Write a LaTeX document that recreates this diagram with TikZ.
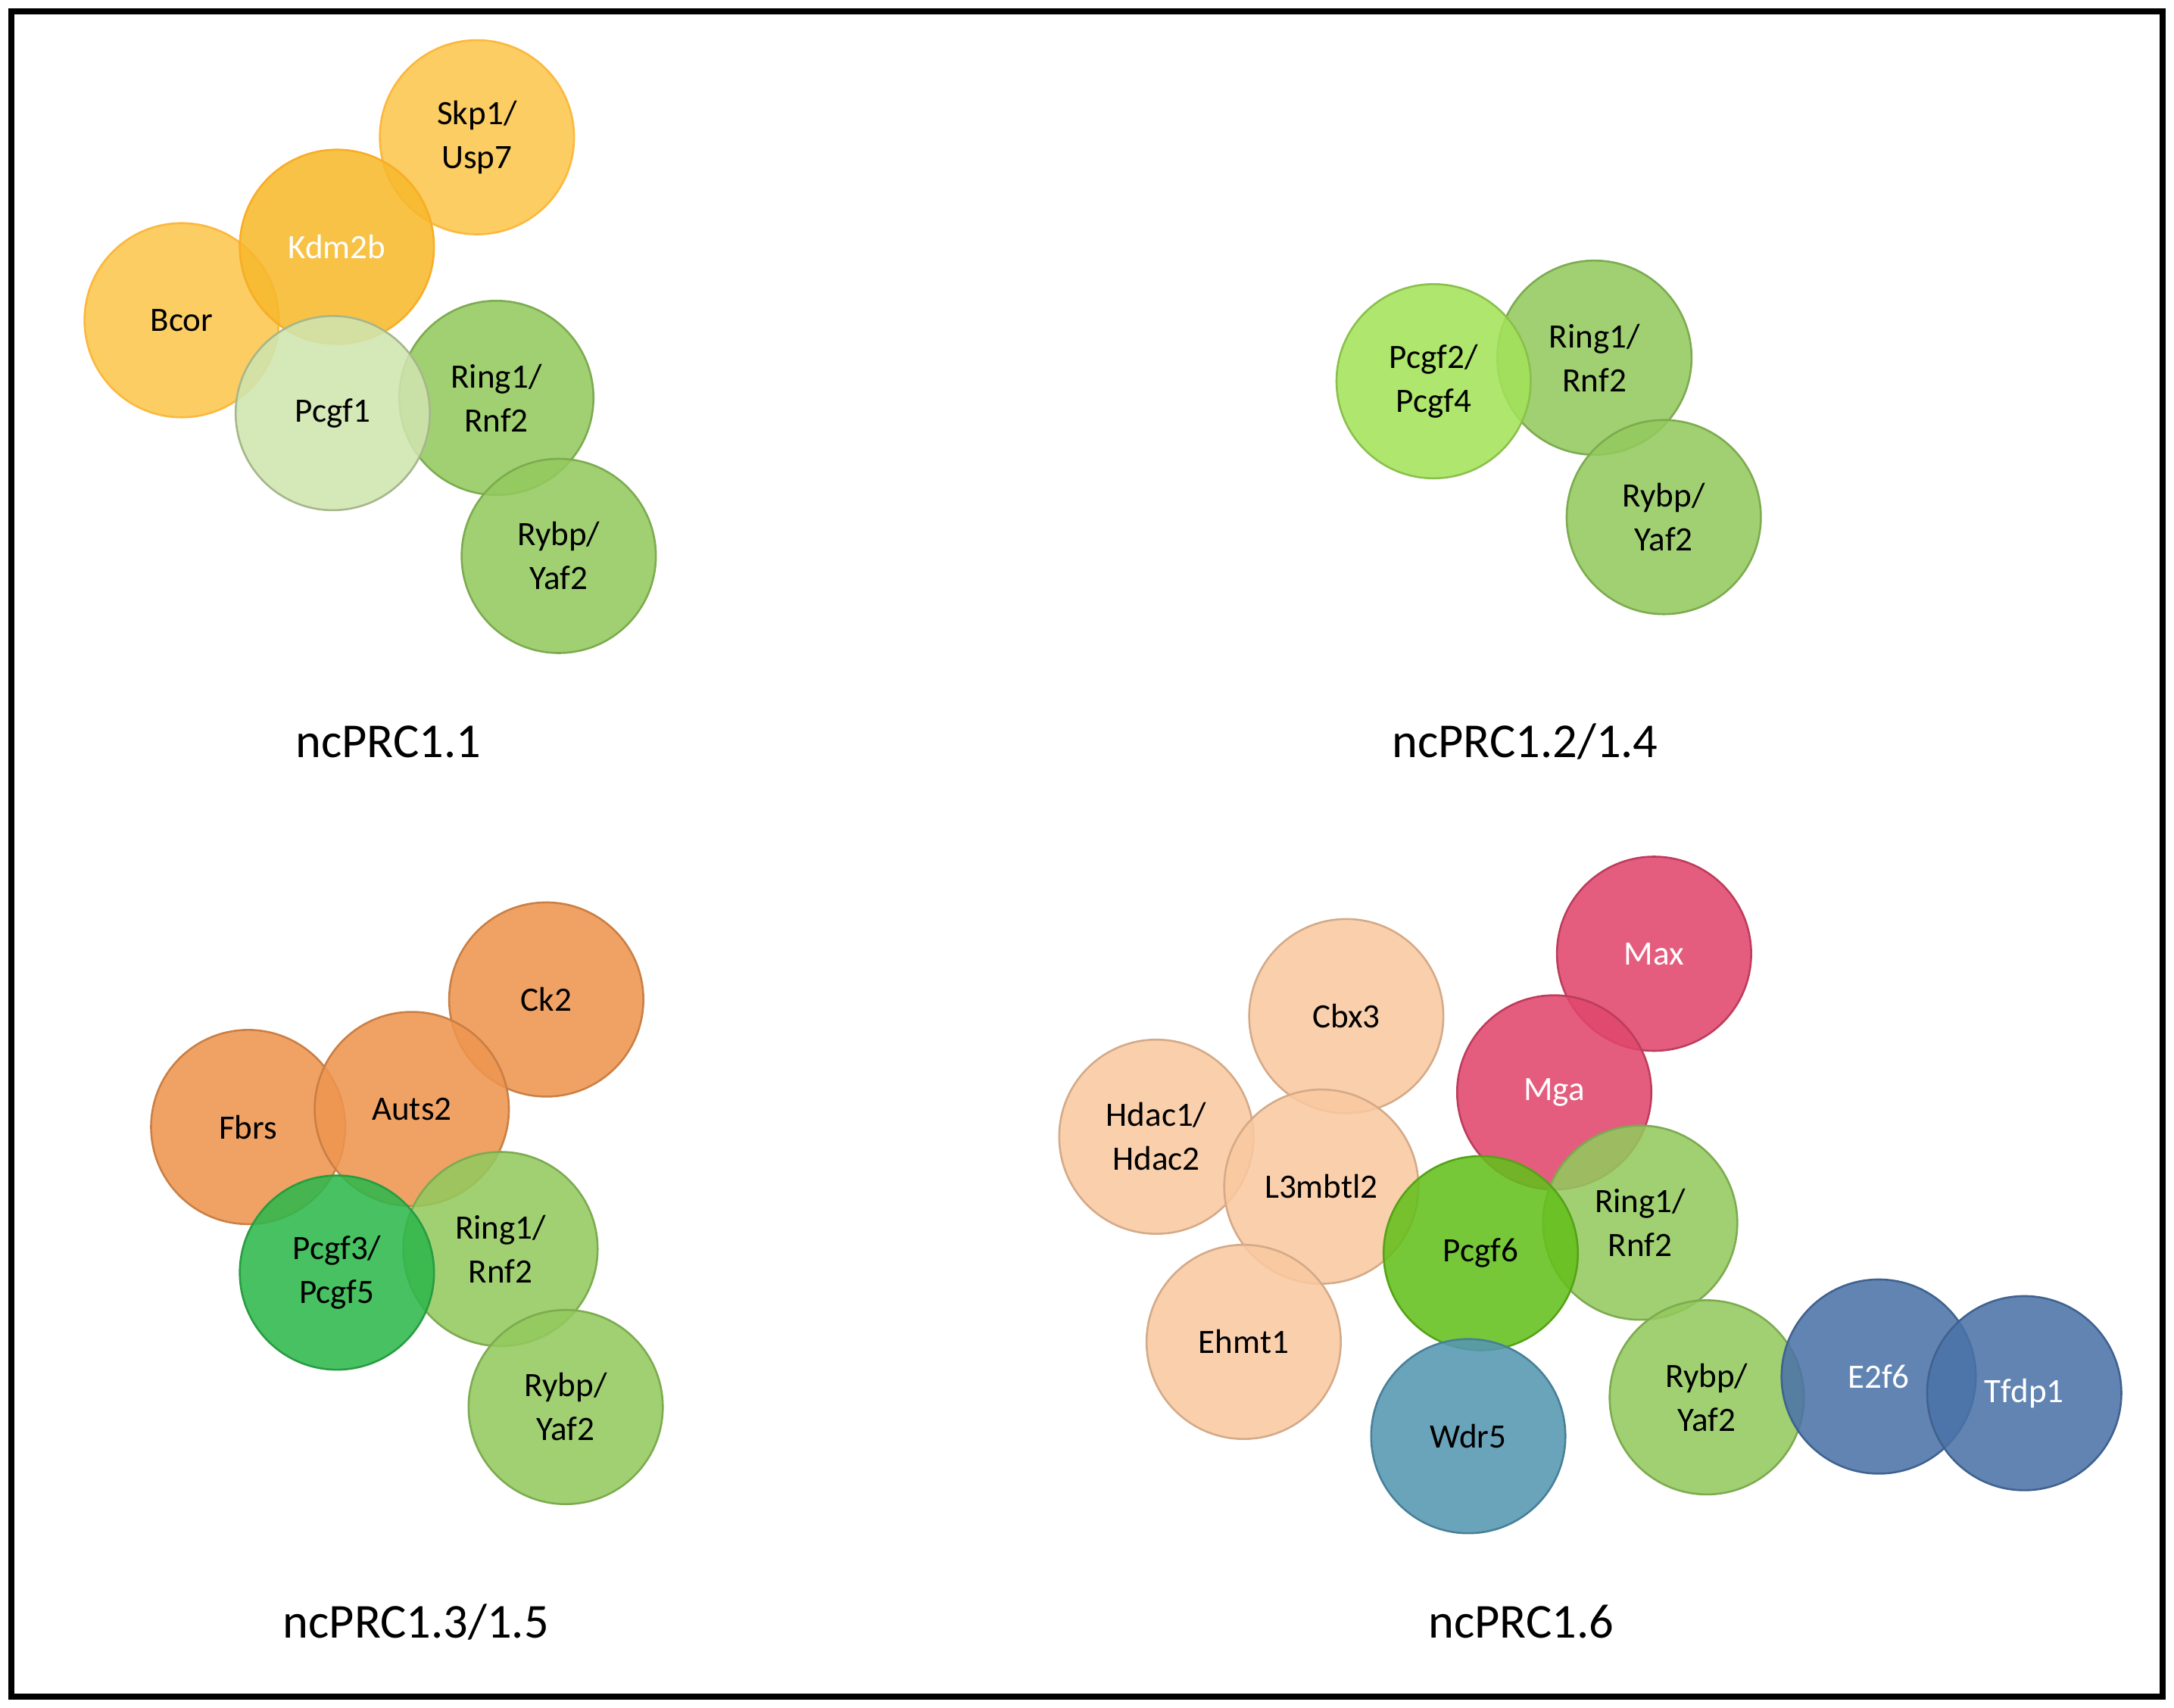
\documentclass[tikz,border=0pt]{standalone}
\usepackage{fontspec}
\setmainfont{Carlito}
\usetikzlibrary{positioning}
\definecolor{cYel}{HTML}{FBC64C}
\definecolor{cKdm}{HTML}{F7B92E}
\definecolor{cPc1}{HTML}{CFE5AE}
\definecolor{cGrn}{HTML}{93C95E}
\definecolor{cPc2}{HTML}{A3E25A}
\definecolor{cOra}{HTML}{EE9550}
\definecolor{cPc3}{HTML}{2FB84C}
\definecolor{cPea}{HTML}{F9C8A0}
\definecolor{cRed}{HTML}{E0476C}
\definecolor{cPc6}{HTML}{64C01C}
\definecolor{cWdr}{HTML}{5597B2}
\definecolor{cBlu}{HTML}{4B73A8}
\tikzset{
  prot/.style = {circle, minimum size=1.4cm, inner sep=0pt, align=center,
    font=\fontsize{7}{9}\selectfont, fill opacity=0.88, text opacity=1},
  yel/.style = {prot, fill=cYel, draw=cYel!80!orange},
  kdm/.style = {prot, fill=cKdm, draw=cKdm!80!orange, text=white},
  pc1/.style = {prot, fill=cPc1, draw=cPc1!80!black},
  grn/.style = {prot, fill=cGrn, draw=cGrn!85!black},
  pc2/.style = {prot, fill=cPc2, draw=cPc2!85!black},
  ora/.style = {prot, fill=cOra, draw=cOra!85!black},
  pc3/.style = {prot, fill=cPc3, draw=cPc3!85!black},
  pea/.style = {prot, fill=cPea, draw=cPea!85!black},
  red/.style = {prot, fill=cRed, draw=cRed!85!black, text=white},
  pc6/.style = {prot, fill=cPc6, draw=cPc6!85!black},
  wdr/.style = {prot, fill=cWdr, draw=cWdr!85!black},
  blu/.style = {prot, fill=cBlu, draw=cBlu!85!black, text=white},
  cplx/.style = {font=\fontsize{10}{12}\selectfont}
}
\begin{document}
\begin{tikzpicture}[x=0.01cm, y=-0.01cm]
  \useasboundingbox (0,0) rectangle (1568,1232);
  \draw[line width=1.2pt] (8,8) rectangle (1560,1224);
  % ncPRC1.1
  \node[yel] (skp) at (344,99) {Skp1/\\Usp7};
  \node[yel] (bcor) at (131,231) {Bcor};
  \node[kdm] (kdm) at (243,178) {Kdm2b};
  \node[grn] (ring1) at (358,287) {Ring1/\\Rnf2};
  \node[grn] (rybp1) at (403,401) {Rybp/\\Yaf2};
  \node[pc1] (pcgf1) at (240,298) {Pcgf1};
  \node[cplx] (lab1) at (280,535) {ncPRC1.1};
  % ncPRC1.2/1.4
  \node[grn] (ring2) at (1150,258) {Ring1/\\Rnf2};
  \node[pc2] (pcgf2) at (1034,275) {Pcgf2/\\Pcgf4};
  \node[grn] (rybp2) at (1200,373) {Rybp/\\Yaf2};
  \node[cplx] (lab2) at (1100,535) {ncPRC1.2/1.4};
  % ncPRC1.3/1.5
  \node[ora] (ck2) at (394,721) {Ck2};
  \node[ora] (fbrs) at (179,813) {Fbrs};
  \node[ora] (auts2) at (297,800) {Auts2};
  \node[grn] (ring3) at (361,901) {Ring1/\\Rnf2};
  \node[pc3] (pcgf3) at (243,918) {Pcgf3/\\Pcgf5};
  \node[grn] (rybp3) at (408,1015) {Rybp/\\Yaf2};
  \node[cplx] (lab3) at (300,1170) {ncPRC1.3/1.5};
  % ncPRC1.6
  \node[red] (max) at (1193,688) {Max};
  \node[pea] (cbx3) at (971,733) {Cbx3};
  \node[red] (mga) at (1121,788) {Mga};
  \node[pea] (hdac) at (834,820) {Hdac1/\\Hdac2};
  \node[pea] (l3m) at (953,856) {L3mbtl2};
  \node[pea] (ehmt) at (897,968) {Ehmt1};
  \node[grn] (ring6) at (1183,882) {Ring1/\\Rnf2};
  \node[pc6] (pcgf6) at (1068,904) {Pcgf6};
  \node[wdr] (wdr5) at (1059,1036) {Wdr5};
  \node[grn] (rybp6) at (1231,1008) {Rybp/\\Yaf2};
  \node[blu] (e2f6) at (1355,993) {E2f6};
  \node[blu] (tfdp) at (1460,1005) {Tfdp1};
  \node[cplx] (lab6) at (1097,1170) {ncPRC1.6};
\end{tikzpicture}
\end{document}
